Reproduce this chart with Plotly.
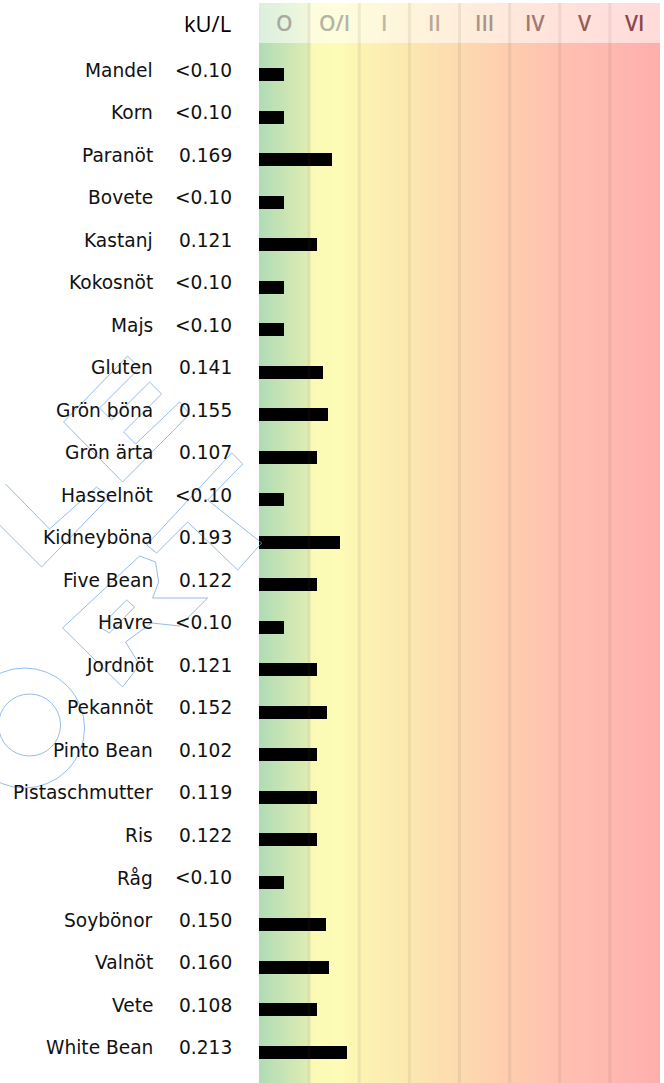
import numpy as np
import plotly.graph_objects as go

# ---------------- data ----------------
names = ["Mandel", "Korn", "Paranöt", "Bovete", "Kastanj", "Kokosnöt", "Majs",
         "Gluten", "Grön böna", "Grön ärta", "Hasselnöt", "Kidneyböna",
         "Five Bean", "Havre", "Jordnöt", "Pekannöt", "Pinto Bean",
         "Pistaschmutter", "Ris", "Råg", "Soybönor", "Valnöt", "Vete",
         "White Bean"]
value_text = ["<0.10", "<0.10", "0.169", "<0.10", "0.121", "<0.10", "<0.10",
              "0.141", "0.155", "0.107", "<0.10", "0.193", "0.122", "<0.10",
              "0.121", "0.152", "0.102", "0.119", "0.122", "<0.10", "0.150",
              "0.160", "0.108", "0.213"]
values = [None, None, 0.169, None, 0.121, None, None, 0.141, 0.155, 0.107,
          None, 0.193, 0.122, None, 0.121, 0.152, 0.102, 0.119, 0.122, None,
          0.150, 0.160, 0.108, 0.213]
class_labels = ["O", "O/I", "I", "II", "III", "IV", "V", "VI"]
class_colors = ["#a6aa9f", "#b3b4a3", "#bdb7a4", "#b7a898", "#a8938a",
                "#9e7a72", "#935e5a", "#8a4a4a"]
unit_label = "kU/L"

# ---------------- scale: value -> class units ----------------
OI_LOW, OI_SPAN, MIN_FRAC = 0.10, 0.15, 0.155


def class_pos(v):
    if v is None:          # below detection: half of class O
        return 0.5
    return 1 + max((v - OI_LOW) / OI_SPAN, MIN_FRAC)


bar_len = [class_pos(v) for v in values]
rows = list(range(len(names)))

# geometry (pixels)
W, H = 664, 1083
L_PX, R_PX, T_PX = 259.3, 660.0, 3.0
PLOT_W = R_PX - L_PX
PLOT_H = H - T_PX
ROW0, ROWSTEP, HEADER_BOTTOM = 74.8, 42.5, 43.0
y_top = (T_PX - ROW0) / ROWSTEP
y_bot = (H - ROW0) / ROWSTEP


def px(X, Y):
    return (X - L_PX) / PLOT_W, 1 - (Y - T_PX) / PLOT_H


fig = go.Figure()

# background gradient
xe = np.linspace(0, 8, 401)
zc = ((xe[:-1] + xe[1:]) / 2 / 8)[None, :]
cscale = [
    [0.000, "rgb(176,220,182)"],
    [0.122, "rgb(222,236,178)"],
    [0.130, "rgb(250,250,182)"],
    [0.200, "rgb(253,252,182)"],
    [0.250, "rgb(252,244,178)"],
    [0.375, "rgb(252,232,176)"],
    [0.500, "rgb(253,218,175)"],
    [0.625, "rgb(254,205,175)"],
    [0.750, "rgb(255,192,175)"],
    [0.875, "rgb(255,184,175)"],
    [1.000, "rgb(255,174,174)"],
]
fig.add_trace(go.Heatmap(x=xe, y=[y_top, y_bot], z=zc, colorscale=cscale,
                         zmin=0, zmax=1, showscale=False, hoverinfo="skip"))

# bars
fig.add_trace(go.Bar(y=rows, x=bar_len, base=0, orientation="h", width=0.306,
                     marker=dict(color="black", line=dict(width=0)),
                     hoverinfo="skip"))

shapes = []
# faded header band
shapes.append(dict(type="rect", xref="paper", yref="paper", x0=0, x1=1,
                   y0=px(0, HEADER_BOTTOM)[1], y1=1, line=dict(width=0),
                   fillcolor="rgba(255,255,255,0.55)", layer="above"))
# class separators
for k in range(1, 8):
    shapes.append(dict(type="line", xref="x", yref="paper", x0=k, x1=k,
                       y0=0, y1=1, line=dict(color="rgba(90,80,60,0.09)",
                                             width=3), layer="above"))

# watermark (decorative outline)
wm_color = "rgba(110,165,230,0.75)"


def path(pts, close=True):
    s = "M " + " L ".join(f"{px(x, y)[0]:.5f},{px(x, y)[1]:.5f}" for x, y in pts)
    return s + (" Z" if close else "")


wm_polys = [
    ([(64, 422), (128, 356), (140, 368), (100, 408), (112, 420), (150, 382),
      (162, 394), (124, 432), (136, 444), (180, 402), (190, 414), (123, 482)], True),
    ([(6, 484), (50, 529), (97, 487), (110, 497), (42, 567), (0, 525)], False),
    ([(232, 453), (243, 464), (208, 500), (262, 543), (238, 570), (188, 522),
      (157, 553), (147, 545)], True),
    ([(63, 628), (140, 556), (156, 562), (159, 582), (153, 598), (208, 598),
      (180, 626), (152, 623), (126, 642), (140, 665), (123, 687)], True),
    ([(100, 627), (127, 600), (135, 607), (110, 633)], True),
]
for pts, cl in wm_polys:
    shapes.append(dict(type="path", xref="paper", yref="paper",
                       path=path(pts, cl), line=dict(color=wm_color, width=1),
                       layer="above"))
for (cx, cy, r) in [(25, 728, 60), (30, 725, 31)]:
    x0, y0 = px(cx - r, cy + r)
    x1, y1 = px(cx + r, cy - r)
    shapes.append(dict(type="circle", xref="paper", yref="paper", x0=x0,
                       x1=x1, y0=y0, y1=y1,
                       line=dict(color=wm_color, width=1), layer="above"))

annotations = []
font18 = dict(family="DejaVu Sans", size=18.6, color="#111111")
xn = px(155, 0)[0]
xv = px(234.5, 0)[0]
for i, (n, t) in enumerate(zip(names, value_text)):
    annotations.append(dict(x=xn, y=i, xref="paper", yref="y", text=n,
                            showarrow=False, xanchor="right", yanchor="middle",
                            font=font18, yshift=4.5))
    annotations.append(dict(x=xv, y=i, xref="paper", yref="y", text=t,
                            showarrow=False, xanchor="right", yanchor="middle",
                            font=font18, yshift=4.5))
hx, hy = px(208, 22.5)
annotations.append(dict(x=hx, y=hy, xref="paper", yref="paper", text=unit_label,
                        showarrow=False, xanchor="center", yanchor="middle",
                        font=dict(family="Open Sans", size=22, color="black")))
for k, (lab, col) in enumerate(zip(class_labels, class_colors)):
    annotations.append(dict(x=k + 0.5, y=hy, xref="x", yref="paper", text=lab,
                            showarrow=False, xanchor="center", yanchor="middle",
                            font=dict(family="Open Sans", size=21, color=col,
                                      weight=600)))

fig.update_layout(
    width=W, height=H,
    margin=dict(l=L_PX, r=W - R_PX, t=T_PX, b=0, pad=0),
    paper_bgcolor="white", plot_bgcolor="white",
    showlegend=False,
    xaxis=dict(range=[0, 8], visible=False, fixedrange=True),
    yaxis=dict(range=[y_bot, y_top], visible=False, fixedrange=True),
    shapes=shapes, annotations=annotations,
    bargap=0,
)
fig.write_html("out.html",
               config={"displayModeBar": False, "staticPlot": True},
               post_script="document.body.style.margin='0';"
                           "document.body.style.overflow='hidden';")
